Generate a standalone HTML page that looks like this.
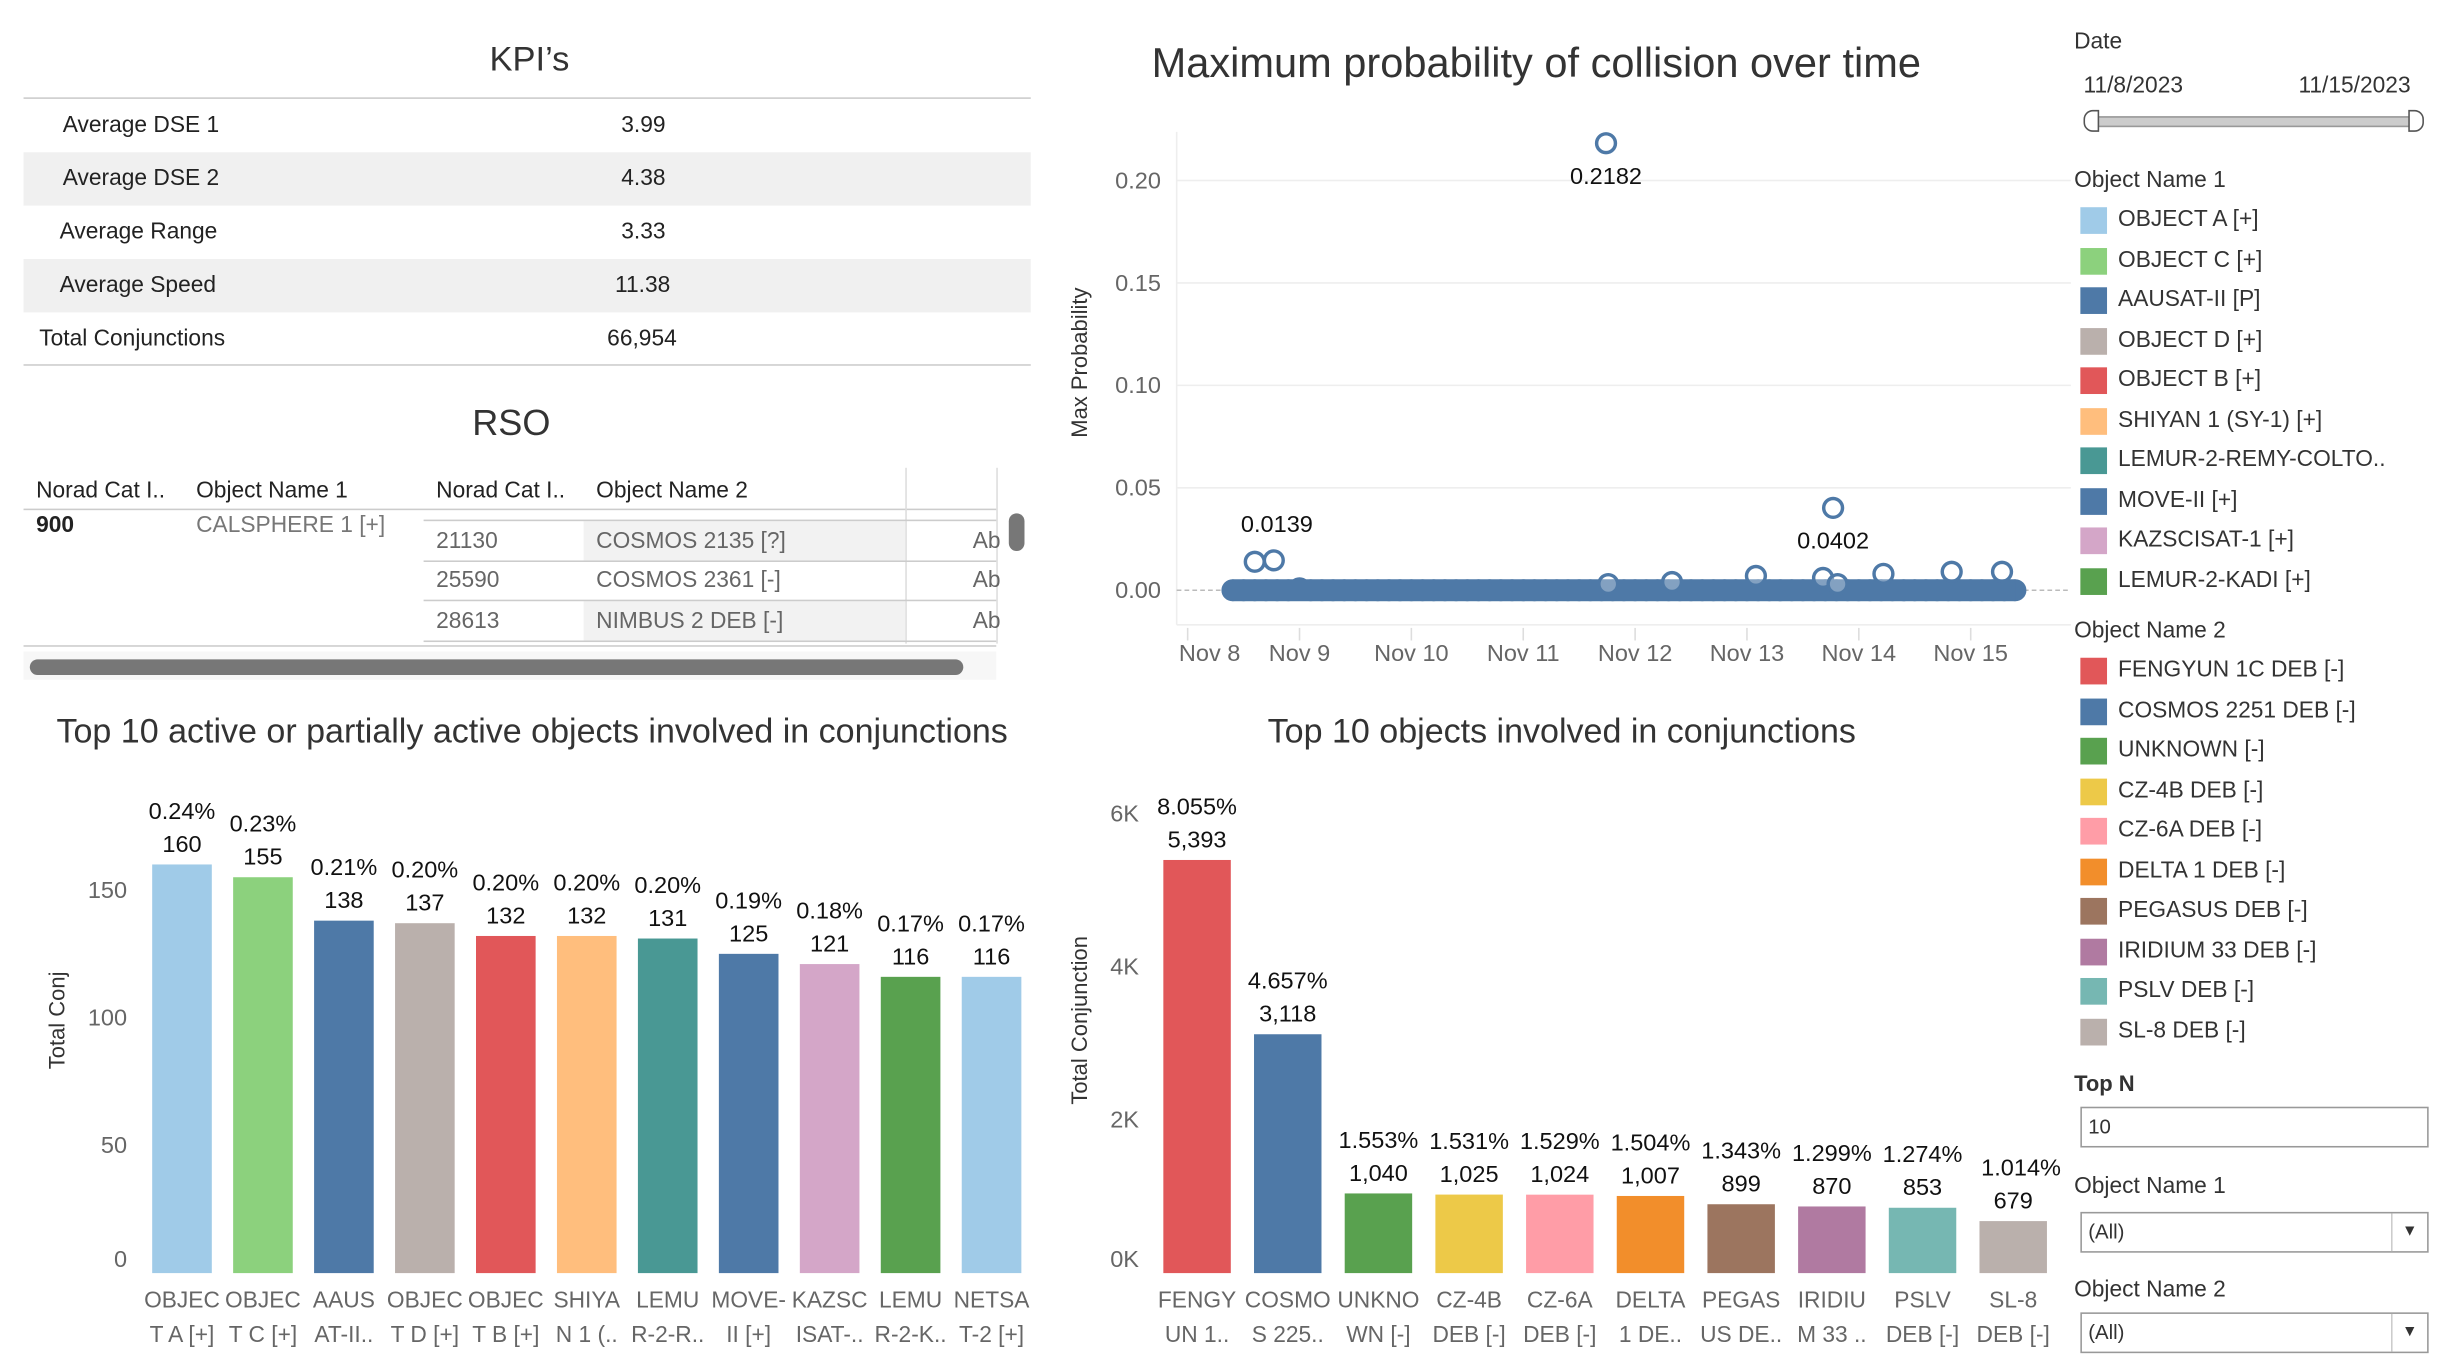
<!DOCTYPE html>
<html><head><meta charset="utf-8">
<style>
body{margin:0;background:#fff;overflow:hidden;width:2460px;height:1372px}
#root{position:absolute;left:0;top:0;width:1568px;height:874px;transform-origin:0 0;transform:scale(1.5689,1.5698);font-family:"Liberation Sans",sans-serif;color:#333}
.a{position:absolute;white-space:nowrap}
.t{font-size:22px;color:#333}
.k{font-size:14.5px;color:#222}
.lg{font-size:14.5px;color:#333}
.sw{position:absolute;width:17px;height:17px}
svg text{font-family:"Liberation Sans",sans-serif}
</style></head><body>
<div id="root">
<!-- KPI -->
<div class="a t" style="left:312px;top:25px">KPI’s</div>
<div class="a" style="left:15px;top:62px;width:642px;height:1px;background:#ccc"></div>
<div class="a" style="left:15px;top:97px;width:642px;height:34px;background:#f0f0f0"></div>
<div class="a" style="left:15px;top:165px;width:642px;height:34px;background:#f0f0f0"></div>
<div class="a" style="left:15px;top:232px;width:642px;height:1px;background:#ccc"></div>
<div class="a k" style="left:40px;top:72px">Average DSE 1</div><div class="a k" style="left:396px;top:72px">3.99</div>
<div class="a k" style="left:40px;top:106px">Average DSE 2</div><div class="a k" style="left:396px;top:106px">4.38</div>
<div class="a k" style="left:38px;top:140px">Average Range</div><div class="a k" style="left:396px;top:140px">3.33</div>
<div class="a k" style="left:38px;top:174px">Average Speed</div><div class="a k" style="left:392px;top:174px">11.38</div>
<div class="a k" style="left:25px;top:208px">Total Conjunctions</div><div class="a k" style="left:387px;top:208px">66,954</div>
<!-- RSO -->
<div class="a t" style="left:301px;top:256px;font-size:23px">RSO</div>
<div class="a k" style="left:23px;top:305px">Norad Cat I..</div>
<div class="a k" style="left:125px;top:305px">Object Name 1</div>
<div class="a k" style="left:278px;top:305px">Norad Cat I..</div>
<div class="a k" style="left:380px;top:305px">Object Name 2</div>
<div class="a" style="left:15px;top:324px;width:620px;height:1px;background:#ccc"></div>
<div class="a" style="left:577px;top:298px;width:1px;height:112px;background:#ddd"></div>
<div class="a" style="left:635px;top:298px;width:1px;height:112px;background:#ddd"></div>
<div class="a" style="left:372px;top:332px;width:205px;height:25px;background:#f2f2f2"></div>
<div class="a" style="left:372px;top:383px;width:205px;height:25px;background:#f2f2f2"></div>
<div class="a" style="left:270px;top:331px;width:365px;height:1px;background:#ccc"></div>
<div class="a" style="left:270px;top:357px;width:365px;height:1px;background:#ccc"></div>
<div class="a" style="left:270px;top:382px;width:365px;height:1px;background:#ccc"></div>
<div class="a" style="left:270px;top:408px;width:365px;height:1px;background:#ccc"></div>
<div class="a" style="left:15px;top:411px;width:620px;height:1px;background:#ccc"></div>
<div class="a k" style="left:23px;top:327px;font-weight:bold">900</div>
<div class="a k" style="left:125px;top:327px;color:#777">CALSPHERE 1 [+]</div>
<div class="a k" style="left:278px;top:337px;color:#666">21130</div><div class="a k" style="left:380px;top:337px;color:#666">COSMOS 2135 [?]</div><div class="a k" style="left:620px;top:337px;color:#666">Ab</div>
<div class="a k" style="left:278px;top:362px;color:#666">25590</div><div class="a k" style="left:380px;top:362px;color:#666">COSMOS 2361 [-]</div><div class="a k" style="left:620px;top:362px;color:#666">Ab</div>
<div class="a k" style="left:278px;top:388px;color:#666">28613</div><div class="a k" style="left:380px;top:388px;color:#666">NIMBUS 2 DEB [-]</div><div class="a k" style="left:620px;top:388px;color:#666">Ab</div>
<div class="a" style="left:643px;top:327px;width:10px;height:24px;border-radius:5px;background:#777"></div>
<div class="a" style="left:15px;top:415px;width:620px;height:18px;background:#f7f7f7"></div>
<div class="a" style="left:19px;top:420px;width:595px;height:10px;border-radius:5px;background:#777"></div>

<!-- scatter -->
<div class="a t" style="left:734px;top:25px;font-size:26.5px">Maximum probability of collision over time</div>
<svg class="a" style="left:670px;top:60px" width="650" height="380" id="sc"></svg>

<!-- left bars -->
<div class="a t" style="left:36px;top:453px;font-size:21.7px">Top 10 active or partially active objects involved in conjunctions</div>
<svg class="a" style="left:0;top:490px" width="665" height="384" id="lb"></svg>
<!-- right bars -->
<div class="a t" style="left:808px;top:453px;font-size:21.7px">Top 10 objects involved in conjunctions</div>
<svg class="a" style="left:670px;top:490px" width="650" height="384" id="rb"></svg>

<!-- sidebar -->
<div class="a lg" style="left:1322px;top:19px">Date</div>
<div class="a lg" style="left:1328px;top:47px">11/8/2023</div>
<div class="a lg" style="left:1465px;top:47px">11/15/2023</div>
<div class="a" style="left:1333px;top:74px;width:206px;height:5px;background:#ccc;border:1px solid #999"></div>
<div class="a" style="left:1328px;top:70px;width:8px;height:12px;border:1.5px solid #555;border-radius:6px 0 0 6px;background:#fff"></div>
<div class="a" style="left:1535px;top:70px;width:8px;height:12px;border:1.5px solid #555;border-radius:0 6px 6px 0;background:#fff"></div>
<div id="leg"></div>
<div class="a lg" style="left:1322px;top:682px;font-weight:bold;font-size:14px">Top N</div>
<div class="a" style="left:1326px;top:705px;width:220px;height:24px;border:1px solid #999;font-size:13px;line-height:24px;text-indent:4px">10</div>
<div class="a lg" style="left:1322px;top:748px">Object Name 1</div>
<div class="a" style="left:1326px;top:772px;width:220px;height:24px;border:1px solid #999;font-size:13px;line-height:24px;text-indent:4px">(All)<span style="position:absolute;right:0;top:0;width:22px;height:24px;border-left:1px solid #ccc;text-indent:0;text-align:center;font-size:10px">▼</span></div>
<div class="a lg" style="left:1322px;top:814px">Object Name 2</div>
<div class="a" style="left:1326px;top:836px;width:220px;height:24px;border:1px solid #999;font-size:13px;line-height:24px;text-indent:4px">(All)<span style="position:absolute;right:0;top:0;width:22px;height:24px;border-left:1px solid #ccc;text-indent:0;text-align:center;font-size:10px">▼</span></div>
</div>
<script>
const NS='http://www.w3.org/2000/svg';
function mk(p,tag,at,txt){const e=document.createElementNS(NS,tag);for(const k in at)e.setAttribute(k,at[k]);if(txt!==undefined)e.textContent=txt;p.appendChild(e);return e;}

// ---- scatter data ----
const scDays=[8.4,8.5,8.6,8.7,8.8,8.9,9.0,9.1,9.2,9.3,9.4,9.5,9.6,9.7,9.8,9.9,10.0,10.1,10.2,10.3,10.4,10.5,10.6,10.7,10.8,10.9,11.0,11.1,11.2,11.3,11.4,11.5,11.6,11.7,11.8,11.9,12.0,12.1,12.2,12.3,12.4,12.5,12.6,12.7,12.8,12.9,13.0,13.1,13.2,13.3,13.4,13.5,13.6,13.7,13.8,13.9,14.0,14.1,14.2,14.3,14.4,14.5,14.6,14.7,14.8,14.9,15.0,15.1,15.2,15.3,15.4];
const scBase=[0,0,0,0,0,0,0.001,0,0,0,0,0,0,0,0,0,0,0,0,0,0,0,0,0,0,0,0,0,0,0,0,0,0,0,0,0,0,0,0,0,0,0,0,0,0,0,0,0,0,0,0,0,0,0,0,0,0,0,0,0,0,0,0,0,0,0,0,0,0,0,0];
const outDays=[8.6,8.77,11.74,11.76,12.33,13.08,13.68,13.77,13.81,14.22,14.83,15.28];
const outVals=[0.0139,0.0146,0.2182,0.003,0.004,0.007,0.006,0.0402,0.003,0.008,0.009,0.009];
const outLabels=[{i:1,t:'0.0139',dy:-18},{i:2,t:'0.2182',dy:26},{i:7,t:'0.0402',dy:26}];
const scTicks=[0,0.05,0.10,0.15,0.20];
const scDayTicks=[8,9,10,11,12,13,14,15];
(function(){
 const s=document.getElementById('sc');
 const x=d=>757+(d-8)*71.3-670, y=v=>316-v*1305;
 mk(s,'line',{x1:80,y1:24,x2:80,y2:338,stroke:'#eee'});
 scTicks.forEach(t=>{mk(s,'line',{x1:80,x2:650,y1:y(t),y2:y(t),stroke:t===0?'#bbb':'#eee','stroke-dasharray':t===0?'3,2':''});
  const tx=mk(s,'text',{x:70,y:y(t)+5,'text-anchor':'end','font-size':15,fill:'#666'},t.toFixed(2));});
 mk(s,'line',{x1:80,x2:650,y1:338,y2:338,stroke:'#eee'});
 scDayTicks.forEach(d=>{mk(s,'line',{x1:x(d),x2:x(d),y1:340,y2:348,stroke:'#ddd'});
  const tx=mk(s,'text',{x:x(d)+(d===8?14:0),y:361,'text-anchor':'middle','font-size':15,fill:'#666'},'Nov '+d);});
 const yt=mk(s,'text',{transform:'translate(23,171) rotate(-90)','text-anchor':'middle','font-size':14,fill:'#333'},'Max Probability');
 
 scDays.forEach((d,i)=>{const c=mk(s,'circle',{cx:x(d),cy:y(scBase[i]),r:7,fill:'#4e79a7'});});
 mk(s,'rect',{x:x(scDays[0]),y:y(0)-7,width:x(scDays[scDays.length-1])-x(scDays[0]),height:14,fill:'#4e79a7'});
 outDays.forEach((d,i)=>{const c=mk(s,'circle',{cx:x(d),cy:y(outVals[i]),r:6,fill:'#fff','fill-opacity':0.3,stroke:'#4e79a7','stroke-width':2.2});});
 outLabels.forEach(o=>{const tx=mk(s,'text',{x:x(outDays[o.i])+(o.i===1?2:0),y:y(outVals[o.i])+o.dy,'text-anchor':'middle','font-size':15,fill:'#111'},o.t);});
})();

// ---- left bars ----
const lbCats=[['OBJEC','T A [+]'],['OBJEC','T C [+]'],['AAUS','AT-II..'],['OBJEC','T D [+]'],['OBJEC','T B [+]'],['SHIYA','N 1 (..'],['LEMU','R-2-R..'],['MOVE-','II [+]'],['KAZSC','ISAT-..'],['LEMU','R-2-K..'],['NETSA','T-2 [+]']];
const lbVals=[160,155,138,137,132,132,131,125,121,116,116];
const lbPct=['0.24%','0.23%','0.21%','0.20%','0.20%','0.20%','0.20%','0.19%','0.18%','0.17%','0.17%'];
const lbTicks=[0,50,100,150];
const lbColors=['#a0cbe8','#8cd17d','#4e79a7','#bab0ac','#e15759','#ffbe7d','#499894','#4e79a7','#d4a6c8','#59a14f','#a0cbe8'];
(function(){
 const s=document.getElementById('lb');
 const y=v=>321-v*1.627, x=i=>116+i*51.6;
 lbTicks.forEach(t=>{const tx=mk(s,'text',{x:81,y:y(t)+(t===0?-4:5),'text-anchor':'end','font-size':15,fill:'#666'},t);});
 const yt=mk(s,'text',{transform:'translate(41,160) rotate(-90)','text-anchor':'middle','font-size':14,fill:'#333'},'Total Conj');
 lbVals.forEach((v,i)=>{const r=mk(s,'rect',{x:x(i)-19,y:y(v),width:38,height:y(0)-y(v),fill:lbColors[i]});
  const t1=mk(s,'text',{x:x(i),y:y(v)-29,'text-anchor':'middle','font-size':15,fill:'#111'},lbPct[i]);
  const t2=mk(s,'text',{x:x(i),y:y(v)-8,'text-anchor':'middle','font-size':15,fill:'#111'},v);
  lbCats[i].forEach((c,j)=>{const t=mk(s,'text',{x:x(i),y:343+j*22,'text-anchor':'middle','font-size':14.5,fill:'#666'},c);});
 });
})();

// ---- right bars ----
const rbCats=[['FENGY','UN 1..'],['COSMO','S 225..'],['UNKNO','WN [-]'],['CZ-4B','DEB [-]'],['CZ-6A','DEB [-]'],['DELTA','1 DE..'],['PEGAS','US DE..'],['IRIDIU','M 33 ..'],['PSLV','DEB [-]'],['SL-8','DEB [-]']];
const rbVals=[5393,3118,1040,1025,1024,1007,899,870,853,679];
const rbPct=['8.055%','4.657%','1.553%','1.531%','1.529%','1.504%','1.343%','1.299%','1.274%','1.014%'];
const rbTicks=[0,2000,4000,6000];
const rbColors=['#e15759','#4e79a7','#59a14f','#edc948','#ff9da7','#f28e2b','#9c755f','#b07aa1','#76b7b2','#bab0ac'];
(function(){
 const s=document.getElementById('rb');
 const y=v=>321-v*0.0488, x=i=>93+i*57.8;
 rbTicks.forEach(t=>{const tx=mk(s,'text',{x:56,y:y(t)+(t===0?-4:5),'text-anchor':'end','font-size':15,fill:'#666'},(t/1000)+'K');});
 const yt=mk(s,'text',{transform:'translate(23,160) rotate(-90)','text-anchor':'middle','font-size':14,fill:'#333'},'Total Conjunction');
 rbVals.forEach((v,i)=>{const r=mk(s,'rect',{x:x(i)-21.5,y:y(v),width:43,height:y(0)-y(v),fill:rbColors[i]});
  const t1=mk(s,'text',{x:x(i)+(i===9?5:0),y:y(v)-29,'text-anchor':'middle','font-size':15,fill:'#111'},rbPct[i]);
  const t2=mk(s,'text',{x:x(i),y:y(v)-8,'text-anchor':'middle','font-size':15,fill:'#111'},v.toLocaleString('en-US'));
  rbCats[i].forEach((c,j)=>{const t=mk(s,'text',{x:x(i),y:343+j*22,'text-anchor':'middle','font-size':14.5,fill:'#666'},c);});
 });
})();

// ---- legends ----
const leg1=['OBJECT A [+]','OBJECT C [+]','AAUSAT-II [P]','OBJECT D [+]','OBJECT B [+]','SHIYAN 1 (SY-1) [+]','LEMUR-2-REMY-COLTO..','MOVE-II [+]','KAZSCISAT-1 [+]','LEMUR-2-KADI [+]'];
const leg1c=['#a0cbe8','#8cd17d','#4e79a7','#bab0ac','#e15759','#ffbe7d','#499894','#4e79a7','#d4a6c8','#59a14f'];
const leg2=['FENGYUN 1C DEB [-]','COSMOS 2251 DEB [-]','UNKNOWN [-]','CZ-4B DEB [-]','CZ-6A DEB [-]','DELTA 1 DEB [-]','PEGASUS DEB [-]','IRIDIUM 33 DEB [-]','PSLV DEB [-]','SL-8 DEB [-]'];
const leg2c=['#e15759','#4e79a7','#59a14f','#edc948','#ff9da7','#f28e2b','#9c755f','#b07aa1','#76b7b2','#bab0ac'];
(function(){
 const L=document.getElementById('leg');let h='';
 h+='<div class="a lg" style="left:1322px;top:107px">Object Name 1</div>';
 leg1.forEach((n,i)=>{const t=132+i*25.5;h+=`<div class="sw" style="left:1326px;top:${t}px;background:${leg1c[i]}"></div><div class="a lg" style="left:1350px;top:${t}px">${n}</div>`;});
 h+='<div class="a lg" style="left:1322px;top:394px">Object Name 2</div>';
 leg2.forEach((n,i)=>{const t=419+i*25.5;h+=`<div class="sw" style="left:1326px;top:${t}px;background:${leg2c[i]}"></div><div class="a lg" style="left:1350px;top:${t}px">${n}</div>`;});
 L.innerHTML=h;
})();
</script>
</body></html>
